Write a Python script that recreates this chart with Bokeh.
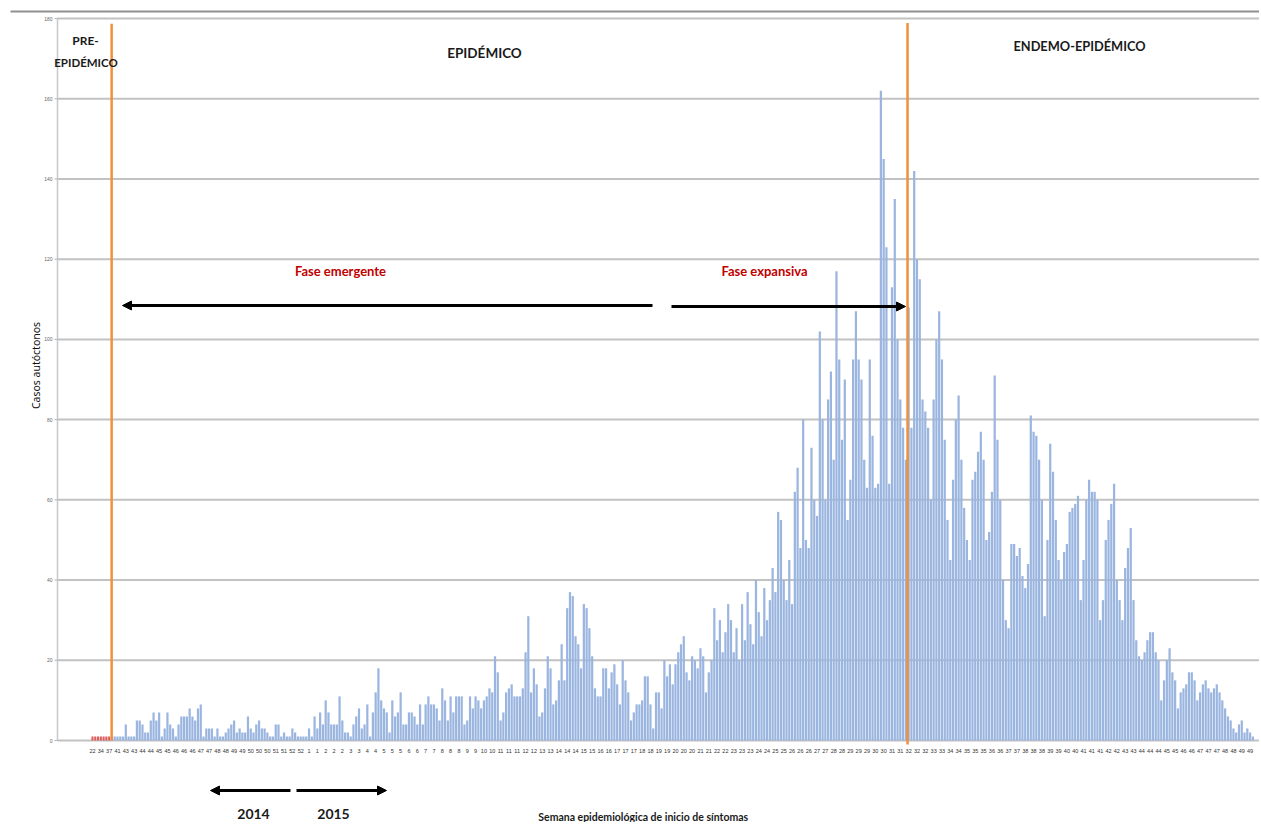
import math
from bokeh.plotting import figure
from bokeh.models import Label, Arrow, NormalHead, Range1d, ColumnDataSource
from bokeh.core.properties import value
from bokeh.embed import file_html
from bokeh.resources import INLINE

# ---------------- data ----------------
semanas_pre = [22, 34, 37]
dias_pre = [2, 3, 2]
casos_pre = [1, 1, 1, 1, 1, 1, 1]

semanas_2014 = [41, 43, 44, 45, 46, 47, 48, 49, 50, 51, 52]
dias_2014 = [3, 7, 7, 6, 7, 7, 6, 7, 7, 6, 7]

semanas_2015 = [1, 2, 3, 4, 5, 6, 7, 8, 9, 10, 11, 12, 13, 14, 15, 16, 17, 18, 19, 20,
                21, 22, 23, 24, 25, 26, 27, 28, 29, 30, 31, 32, 33, 34, 35, 36, 37, 38,
                39, 40, 41, 42, 43, 44, 45, 46, 47, 48, 49]
dias_2015 = [7] * 48 + [6]

casos = [
    1, 1, 1, 1, 1, 4, 1, 1, 1, 5,
    5, 4, 2, 2, 5, 7, 5, 7, 1, 3,
    7, 4, 3, 1, 4, 6, 6, 6, 8, 6,
    5, 8, 9, 1, 3, 3, 3, 1, 3, 1,
    1, 2, 3, 4, 5, 2, 3, 2, 2, 6,
    3, 2, 4, 5, 3, 3, 2, 1, 1, 4,
    4, 1, 2, 1, 1, 3, 2, 1, 1, 1,
    1, 3, 1, 6, 3, 7, 4, 10, 7, 4,
    4, 4, 11, 5, 2, 2, 1, 4, 6, 8,
    3, 4, 9, 1, 7, 12, 18, 10, 8, 7,
    2, 10, 6, 7, 12, 4, 4, 7, 7, 6,
    4, 9, 4, 9, 11, 9, 9, 8, 5, 13,
    10, 5, 11, 7, 11, 11, 11, 4, 5, 11,
    8, 11, 10, 8, 10, 11, 13, 12, 21, 17,
    5, 7, 12, 13, 14, 11, 11, 11, 13, 22,
    31, 12, 18, 14, 6, 7, 13, 21, 18, 9,
    10, 15, 24, 15, 33, 37, 36, 26, 24, 18,
    34, 33, 28, 21, 13, 11, 11, 18, 18, 13,
    17, 19, 14, 9, 20, 15, 12, 5, 7, 9,
    9, 10, 16, 16, 9, 3, 12, 12, 8, 20,
    16, 19, 14, 19, 22, 24, 26, 17, 15, 21,
    20, 18, 23, 21, 12, 17, 20, 33, 25, 30,
    22, 27, 34, 30, 22, 28, 20, 34, 25, 37,
    29, 24, 40, 32, 26, 38, 30, 35, 43, 37,
    57, 55, 40, 35, 45, 34, 62, 68, 48, 80,
    50, 48, 73, 60, 56, 102, 80, 60, 85, 92,
    70, 117, 95, 75, 90, 55, 65, 95, 107, 95,
    90, 70, 63, 95, 76, 63, 64, 162, 145, 123,
    64, 113, 135, 100, 85, 78, 70, 108, 78, 142,
    120, 115, 85, 82, 78, 60, 85, 100, 107, 95,
    75, 55, 45, 65, 80, 86, 70, 58, 50, 45,
    65, 67, 72, 77, 70, 50, 52, 62, 91, 75,
    60, 40, 30, 28, 49, 49, 46, 48, 41, 38,
    44, 81, 77, 76, 70, 60, 31, 50, 74, 67,
    55, 45, 40, 47, 49, 57, 58, 59, 61, 35,
    45, 60, 65, 62, 62, 60, 30, 35, 50, 55,
    59, 64, 40, 35, 30, 43, 48, 53, 35, 25,
    21, 20, 22, 25, 27, 27, 22, 20, 10, 15,
    20, 23, 17, 15, 8, 12, 13, 14, 17, 17,
    15, 10, 12, 14, 15, 13, 12, 13, 14, 12,
    10, 8, 6, 5, 3, 2, 4, 5, 2, 3,
    2, 1,
]

y_ticks = [0, 20, 40, 60, 80, 100, 120, 140, 160, 180]

# ---------------- derived ----------------
etiquetas = []
for w, d in zip(semanas_pre + semanas_2014 + semanas_2015, dias_pre + dias_2014 + dias_2015):
    etiquetas += [str(w)] * d
N = len(etiquetas)
n_pre = len(casos_pre)
x_pre = list(range(n_pre))
x_main = list(range(n_pre, n_pre + len(casos)))

inicio_epidemico = n_pre
inicio_endemo = n_pre + sum(dias_2014) + sum(dias_2015[:31])

# ---------------- layout (frame covers the whole canvas) ----------------
W, H = 1259, 822
PITCH = 2.776          # px per bar
X0 = 92.0              # px of first bar
PX_PER_UNIT = 4.011
Y0 = 740.0             # px of value 0

def xd(px):
    return (px - X0) / PITCH

def yd(py):
    return (Y0 - py) / PX_PER_UNIT

p = figure(frame_width=W, frame_height=H,
           x_range=Range1d(xd(0), xd(W)), y_range=Range1d(yd(H), yd(0)),
           output_backend="svg", toolbar_location=None,
           min_border=0, min_border_left=0, min_border_right=0,
           min_border_top=0, min_border_bottom=0)
p.axis.visible = False
p.grid.visible = False
p.outline_line_color = None
p.background_fill_color = "white"

HEAD_FONT = "Lato"

# top separator line
p.segment(x0=[xd(10)], y0=[yd(11)], x1=[xd(W)], y1=[yd(11)],
          line_color="#8f8f8f", line_width=2)

# horizontal grid lines
gx0 = xd(57)
p.segment(x0=[gx0] * len(y_ticks), y0=y_ticks, x1=[xd(W)] * len(y_ticks), y1=y_ticks,
          line_color="#c2c2c2", line_width=2)

# y axis line, ticks, labels
p.segment(x0=[gx0], y0=[0], x1=[gx0], y1=[180], line_color="#c8c8c8", line_width=1.5)
p.segment(x0=[xd(54)] * len(y_ticks), y0=y_ticks, x1=[gx0] * len(y_ticks), y1=y_ticks,
          line_color="#b5b5b5", line_width=1)
p.text(x=[xd(52)] * len(y_ticks), y=y_ticks, text=[str(t) for t in y_ticks],
       text_align="right", text_baseline="middle", text_font=value("Liberation Sans"),
       text_font_size="5px", text_color="#666666")
p.text(x=[xd(35)], y=[yd(365)], text=["Casos autóctonos"], angle=math.pi / 2,
       text_align="center", text_baseline="middle", text_font=value("Noto Sans"),
       text_font_size="10.5px", text_color="#111111")

# x tick labels
ticks = list(range(0, N, 3))
tick_src = ColumnDataSource(dict(x=ticks, y=[yd(750)] * len(ticks),
                                 t=[etiquetas[i] for i in ticks]))
p.text(x="x", y="y", text="t", source=tick_src, text_align="center",
       text_baseline="middle", text_font=value("Liberation Sans"),
       text_font_size="5.5px", text_color="#333333")

# bars
p.vbar(x=x_pre, top=casos_pre, width=0.75, fill_color="#e05a5a", line_color=None)
p.vbar(x=x_main, top=casos, width=0.8, fill_color="#9ab5df", line_color=None)

# phase lines
p.segment(x0=[inicio_epidemico - 0.1, inicio_endemo - 0.4], y0=[0, -1],
          x1=[inicio_epidemico - 0.1, inicio_endemo - 0.4], y1=[178.7, 178.9],
          line_color="#f0913a", line_width=2.5)

def lab(px, py, text, size, color="#1a1a1a", bold=True, font=HEAD_FONT):
    p.add_layout(Label(x=xd(px), y=yd(py), text=text, text_align="center",
                       text_baseline="middle", text_font=font, text_font_size=size,
                       text_font_style="bold" if bold else "normal", text_color=color))

lab(85, 40, "PRE-", "12px")
lab(85.5, 62, "EPIDÉMICO", "11.5px")
lab(484, 52, "EPIDÉMICO", "13.5px")
lab(1079, 45, "ENDEMO-EPIDÉMICO", "12.8px")
lab(340, 270, "Fase emergente", "13px", color="#c00000")
lab(764, 270, "Fase expansiva", "13px", color="#c00000")
lab(253, 813, "2014", "14px")
lab(333, 813, "2015", "14px")
lab(644, 816, "Semana epidemiológica de  inicio de síntomas", "10.5px")

def arrow(px0, px1, py):
    p.add_layout(Arrow(end=NormalHead(size=9, fill_color="black", line_color="black"),
                       x_start=xd(px0), y_start=yd(py), x_end=xd(px1), y_end=yd(py),
                       line_color="black", line_width=3))

arrow(652, 122, 305)
arrow(671, 905, 306)
arrow(290, 210, 790)
arrow(296, 386, 790)

open("out.html", "w").write(file_html(p, INLINE))
